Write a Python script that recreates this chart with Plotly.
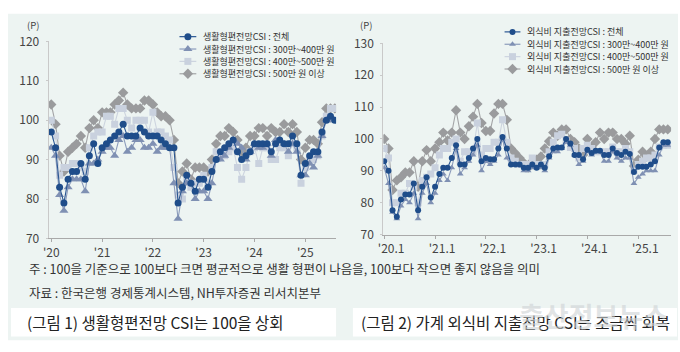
import plotly.graph_objects as go
import pandas as pd

W, H = 680, 352

# ---------------- data ----------------
months = pd.date_range("2020-01-01", periods=68, freq="MS")
year_ticks = [f"{y}-01-01" for y in range(2020, 2026)]
left_ticktext = ["'20", "'21", "'22", "'23", "'24", "'25"]
right_ticktext = ["'20.1", "'21.1", "'22.1", "'23.1", "'24.1", "'25.1"]

left_names = ["생활형편전망CSI : 전체", "생활형편전망CSI : 300만~400만 원",
              "생활형편전망CSI : 400만~500만 원", "생활형편전망CSI : 500만 원 이상"]
right_names = ["외식비 지출전망CSI : 전체", "외식비 지출전망CSI : 300만~400만 원",
               "외식비 지출전망CSI : 400만~500만 원", "외식비 지출전망CSI : 500만 원 이상"]

left_all = [97, 93, 83, 79, 85, 87, 87, 89, 85, 91, 94, 89,
            93, 94, 95, 96, 97, 99, 96, 96, 96, 98, 97, 96,
            96, 96, 95, 94, 93, 93, 79, 83, 86, 84, 82, 85,
            85, 83, 87, 90, 92, 93, 94, 95, 92, 90, 91, 92,
            94, 94, 94, 94, 92, 94, 95, 94, 94, 96, 94, 86,
            89, 91, 92, 92, 97, 100, 101, 100]
left_34 = [93, 91, 81, 77, 83, 85, 85, 85, 82, 89, 89, 90,
           92, 93, 93, 91, 95, 96, 92, 93, 95, 95, 93, 93,
           94, 92, 93, 93, 93, 84, 75, 82, 84, 84, 80, 82,
           82, 80, 84, 90, 90, 91, 93, 95, 94, 93, 90, 92,
           94, 93, 93, 94, 91, 95, 95, 94, 92, 94, 92, 86,
           86, 89, 88, 91, 96, 100, 100, 100]
left_45 = [100, 96, 86, 88, 88, 89, 89, 88, 87, 93, 96, 97,
           97, 101, 101, 99, 103, 103, 100, 98, 100, 100, 100, 97,
           102, 97, 97, 96, 95, 88, 81, 80, 85, 83, 84, 84,
           86, 84, 88, 92, 91, 91, 92, 93, 88, 85, 88, 92,
           93, 89, 93, 93, 90, 90, 93, 93, 91, 94, 93, 84,
           88, 90, 90, 91, 96, 101, 103, 103]
left_50 = [104, 99, 91, 87, 92, 93, 94, 96, 93, 98, 100, 98,
           102, 102, 102, 104, 105, 107, 104, 103, 103, 103, 105, 105,
           104, 102, 101, 101, 100, 95, 84, 87, 89, 85, 88, 88,
           88, 87, 90, 94, 96, 96, 98, 97, 95, 92, 93, 96,
           96, 98, 98, 96, 98, 97, 97, 99, 97, 99, 97, 90,
           93, 95, 95, 94, 99.5, 103, 103, 103]

right_all = [93, 90, 77.6, 75.6, 81, 82.6, 82.6, 86, 77.6, 85, 88, 81.6,
             85, 89, 91, 91, 94, 98, 92, 92, 94, 97, 100, 93,
             94, 93.6, 93.6, 97, 100.6, 97, 92, 92, 92, 91, 91, 92,
             91, 92, 91, 94.6, 97, 97.3, 97.3, 100, 98.6, 95, 95, 93.6,
             96.6, 95.6, 96.3, 96.3, 95, 95, 97, 95.6, 95, 96, 95.3, 89.6,
             91.3, 91.3, 91.3, 92, 93, 97.3, 99, 99]
right_34 = [91, 86, 77, 75, 79, 81, 80, 83, 75, 83, 86, 80,
            83, 87, 89, 87, 91, 97, 89, 91, 93, 95, 98, 90,
            93, 92, 93, 95, 100, 94, 92, 92, 92, 90, 90, 91,
            91, 91, 90, 94, 96, 96, 97, 99, 98, 95, 92, 93,
            96, 95, 96, 96, 93, 93, 96, 94, 93, 94, 94, 86,
            88, 89, 90, 90, 90, 95, 98, 98]
right_45 = [97, 94, 80, 80, 83, 83, 86, 85, 80, 87, 88, 89,
            91, 95, 97, 97, 99, 100, 93, 96, 96, 96, 105, 95,
            97, 97, 99, 99, 106, 99, 94, 93, 92, 92, 92, 94,
            92, 92, 92, 96, 99, 101, 101.5, 99.5, 97.3, 97, 94, 97,
            98, 97, 96, 96, 96, 96, 97.5, 96, 96, 97, 96, 90,
            92, 93, 94, 94, 95, 97.5, 98, 98]
right_50 = [100, 97, 84, 87, 88, 89.5, 89.5, 93, 85, 93, 96.5, 93,
            97, 99, 102, 99.5, 102, 109, 102, 100, 104, 107, 111, 105,
            102.5, 102.5, 108, 111, 111, 106, 97, 95.5, 94, 92.5, 91, 93,
            93.5, 94.5, 97, 99.3, 102, 101, 103, 103, 100, 99, 97, 95,
            100, 97.5, 99, 102, 100, 102, 102, 100, 100, 98.5, 101, 91.5,
            93.5, 96, 94.5, 96, 100, 103, 103, 103]

note_text = "주 : 100을 기준으로 100보다 크면 평균적으로 생활 형편이 나음을, 100보다 작으면 좋지 않음을 의미"
source_text = "자료 : 한국은행 경제통계시스템, NH투자증권 리서치본부"
caption1 = "(그림 1) 생활형편전망 CSI는 100을 상회"
caption2 = "(그림 2) 가계 외식비 지출전망 CSI는 조금씩 회복"
watermark = "출산정보뉴스"

# ---------------- style ----------------
FONT = "Noto Sans CJK KR"
PANEL = "#edf4f2"
colors = ["#1f4d8a", "#7f90b3", "#c9d1de", "#9a9b9d"]
line_colors = ["#2b5793", "#8b9bbb", "#cdd4df", "#a3a4a6"]
symbols = ["circle", "triangle-up", "square", "diamond"]
left_sizes = [7, 8, 7, 8]
right_sizes = [6, 6, 7, 8]


def px(x):
    return x / W


def py(y):
    return 1 - y / H


fig = go.Figure()

left_series = [left_all, left_34, left_45, left_50]
right_series = [right_all, right_34, right_45, right_50]

# draw back-to-front: 500+ , 400-500, 300-400, total
for k in [3, 2, 1, 0]:
    fig.add_trace(go.Scatter(
        x=months, y=left_series[k], mode="lines+markers", name=left_names[k],
        xaxis="x", yaxis="y", showlegend=False,
        line=dict(color=line_colors[k], width=1.1),
        marker=dict(symbol=symbols[k], size=left_sizes[k], color=colors[k],
                    line=dict(width=0))))
    fig.add_trace(go.Scatter(
        x=months, y=right_series[k], mode="lines+markers", name=right_names[k],
        xaxis="x2", yaxis="y2", showlegend=False,
        line=dict(color=line_colors[k], width=1.1),
        marker=dict(symbol=symbols[k], size=right_sizes[k], color=colors[k],
                    line=dict(width=0))))

# custom legends (pixel overlay axis)
annotations = []
legends = [
    dict(names=left_names, x0=175, x1=192, tx=197, ys=[28, 41, 54, 67], sizes=left_sizes),
    dict(names=right_names, x0=503, x1=519, tx=524, ys=[23, 36, 49, 62], sizes=right_sizes),
]
for lg in legends:
    for k, yy in enumerate(lg["ys"]):
        fig.add_trace(go.Scatter(
            x=[lg["x0"], lg["x1"]], y=[yy, yy], mode="lines", xaxis="x3", yaxis="y3",
            showlegend=False, hoverinfo="skip",
            line=dict(color=line_colors[k], width=1.2)))
        fig.add_trace(go.Scatter(
            x=[(lg["x0"] + lg["x1"]) / 2], y=[yy], mode="markers", xaxis="x3", yaxis="y3",
            showlegend=False, hoverinfo="skip", cliponaxis=False,
            marker=dict(symbol=symbols[k], size=lg["sizes"][k], color=colors[k],
                        line=dict(width=0))))
        annotations.append(dict(
            text=lg["names"][k], x=px(lg["tx"]), y=py(yy), xref="paper", yref="paper",
            xanchor="left", yanchor="middle", showarrow=False,
            font=dict(family=FONT, size=9, color="#333333")))

# (P) labels
for xx in [27.5, 363]:
    annotations.append(dict(text="(P)", x=px(xx), y=py(15.5), xref="paper", yref="paper",
                            xanchor="center", yanchor="middle", showarrow=False,
                            font=dict(family=FONT, size=9.5, color="#444444")))

# notes
annotations.append(dict(text=note_text, x=px(21), y=py(272), xref="paper", yref="paper",
                        xanchor="left", yanchor="middle", showarrow=False,
                        font=dict(family=FONT, size=12.5, color="#333333")))
annotations.append(dict(text=source_text, x=px(21), y=py(297), xref="paper", yref="paper",
                        xanchor="left", yanchor="middle", showarrow=False,
                        font=dict(family=FONT, size=12.5, color="#333333")))
# captions
annotations.append(dict(text=caption1, x=px(19), y=py(328), xref="paper", yref="paper",
                        xanchor="left", yanchor="middle", showarrow=False,
                        font=dict(family=FONT, size=15.5, color="#222222")))
annotations.append(dict(text=caption2, x=px(356), y=py(328), xref="paper", yref="paper",
                        xanchor="left", yanchor="middle", showarrow=False,
                        font=dict(family=FONT, size=15.5, color="#222222")))
# watermark
annotations.append(dict(text="<b>" + watermark + "</b>", x=px(593), y=py(321), xref="paper",
                        yref="paper", xanchor="center", yanchor="middle", showarrow=False,
                        font=dict(family=FONT, size=27, color="rgba(205,210,212,0.6)")))

shapes = [
    dict(type="rect", xref="paper", yref="paper", x0=px(2), x1=px(678), y0=py(347), y1=py(4),
         fillcolor=PANEL, line=dict(width=0), layer="below"),
    dict(type="rect", xref="paper", yref="paper", x0=px(5), x1=px(333), y0=py(343), y1=py(313),
         fillcolor="white", line=dict(width=0), layer="below"),
    dict(type="rect", xref="paper", yref="paper", x0=px(350), x1=px(677), y0=py(343), y1=py(313),
         fillcolor="white", line=dict(width=0), layer="below"),
]

tickfont = dict(family=FONT, size=12, color="#444444")
xcommon = dict(showgrid=False, zeroline=False, showline=True, linecolor="#a9a9a9", linewidth=1,
               ticks="outside", ticklen=3, tickcolor="#a9a9a9", tickvals=year_ticks,
               tickfont=tickfont, fixedrange=True)
ycommon = dict(showgrid=False, zeroline=False, showline=True, linecolor="#c9c9c9", linewidth=1,
               ticks="outside", ticklen=2, tickcolor="#c9c9c9", tickfont=tickfont,
               ticklabelstandoff=4, fixedrange=True)

fig.update_layout(
    width=W, height=H, margin=dict(l=0, r=0, t=0, b=0),
    paper_bgcolor="white", plot_bgcolor="rgba(0,0,0,0)",
    font=dict(family=FONT),
    showlegend=False,
    xaxis=dict(domain=[px(43), px(333)], anchor="y", range=["2019-12-13", "2025-08-10"],
               ticktext=left_ticktext, **xcommon),
    yaxis=dict(domain=[py(240), py(33)], anchor="x", range=[70, 120],
               tickvals=[70, 80, 90, 100, 110, 120], **ycommon),
    xaxis2=dict(domain=[px(380.7), px(671)], anchor="y2", range=["2019-12-26", "2025-08-25"],
                ticktext=right_ticktext, ticklabelshift=7, **xcommon),
    yaxis2=dict(domain=[py(236), py(35)], anchor="x2", range=[70, 130],
                tickvals=[70, 80, 90, 100, 110, 120, 130], **ycommon),
    xaxis3=dict(domain=[0, 1], range=[0, W], visible=False, fixedrange=True, anchor="y3"),
    yaxis3=dict(domain=[0, 1], range=[H, 0], visible=False, fixedrange=True, anchor="x3"),
    shapes=shapes,
    annotations=annotations,
)

fig.write_html("out.html")
